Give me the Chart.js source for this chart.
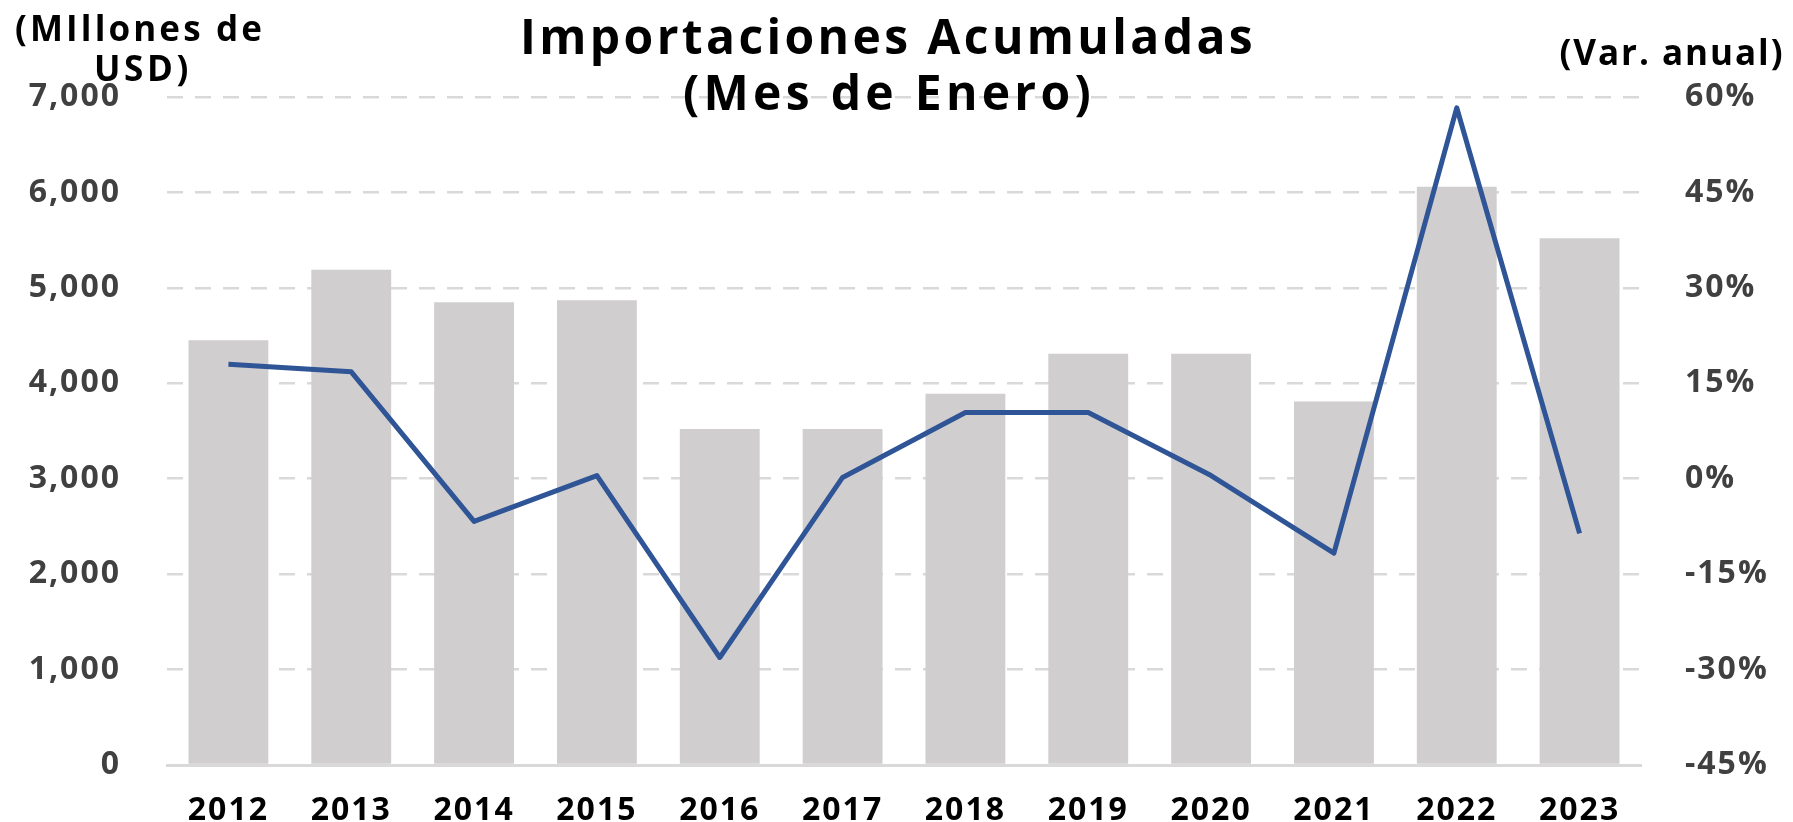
<!DOCTYPE html>
<html>
<head>
<meta charset="utf-8">
<script src="https://cdn.jsdelivr.net/npm/chart.js@4"></script>
<style>
  body { margin: 0; background: #fff; }
  canvas { display: block; }
</style>
</head>
<body>
<canvas id="chart-imports" width="1793" height="822"></canvas>
<script>
// datos
var years = ["2012", "2013", "2014", "2015", "2016", "2017", "2018", "2019", "2020", "2021", "2022", "2023"];
var importaciones = [4450, 5190, 4850, 4870, 3520, 3520, 3890, 4310, 4310, 3810, 6060, 5520];
var variacion = [18.0, 16.8, -6.7, 0.5, -28.1, 0.2, 10.4, 10.4, 0.5, -11.7, 58.3, -8.6];
var leftTicks = [0, 1000, 2000, 3000, 4000, 5000, 6000, 7000];
var rightTicks = [-45, -30, -15, 0, 15, 30, 45, 60];

var FONT = "'Open Sans', 'DejaVu Sans', sans-serif";

// texto ajustado a un ancho dado (tamaño primero, luego espaciado)
function fitText(ctx, txt, cx, cy, width, maxSize) {
    ctx.letterSpacing = "0px";
    ctx.font = "bold 40px " + FONT;
    var w = ctx.measureText(txt).width;
    var size = Math.min(maxSize, 40 * width / w);
    ctx.font = "bold " + size + "px " + FONT;
    w = ctx.measureText(txt).width;
    var ls = Math.max(0, (width - w) / txt.length);
    ctx.letterSpacing = ls + "px";
    ctx.textAlign = "left";
    ctx.textBaseline = "middle";
    ctx.fillText(txt, cx - width / 2, cy);
}

var textPlugin = {
    id: 'textos',
    beforeDraw: function (chart) {
        chart.ctx.letterSpacing = "2px";
    },
    afterDraw: function (chart) {
        var ctx = chart.ctx;
        ctx.save();
        ctx.fillStyle = "#000";
        fitText(ctx, "Importaciones Acumuladas", 888, 40, 736, 48);
        fitText(ctx, "(Mes de Enero)", 889, 96, 412, 48);
        fitText(ctx, "(MIllones de", 140, 31, 250, 35);
        fitText(ctx, "USD)", 143, 71, 98, 35);
        fitText(ctx, "(Var. anual)", 1672, 55, 225, 35);
        ctx.restore();
    }
};

var ctx = document.getElementById("chart-imports").getContext('2d');
var myChart = new Chart(ctx, {
    type: 'bar',
    data: {
        labels: years,
        datasets: [{
            type: 'line',
            label: "Var. anual",
            data: variacion,
            yAxisID: 'y1',
            borderColor: '#2F5597',
            borderWidth: 5,
            borderJoinStyle: 'round',
            pointRadius: 0,
            tension: 0,
            fill: false,
            order: 0
        }, {
            type: 'bar',
            label: "Importaciones",
            data: importaciones,
            yAxisID: 'y',
            backgroundColor: '#D0CECE',
            barPercentage: 0.65,
            categoryPercentage: 1,
            order: 1
        }]
    },
    options: {
        responsive: false,
        animation: false,
        layout: {
            padding: { top: 97, left: 0, right: 0, bottom: 0 }
        },
        plugins: {
            legend: { display: false },
            tooltip: { enabled: false }
        },
        scales: {
            x: {
                grid: { display: false },
                border: { display: true, color: '#D9D9D9', width: 3 },
                ticks: {
                    color: '#000',
                    padding: 19,
                    font: { family: FONT, size: 32, weight: 'bold' }
                },
                afterFit: function (scale) { scale.height = 57; }
            },
            y: {
                position: 'left',
                min: 0,
                max: 7000,
                afterBuildTicks: function (scale) {
                    scale.ticks = leftTicks.map(function (v) { return { value: v }; });
                },
                grid: {
                    color: '#D9D9D9',
                    lineWidth: 2.5,
                    drawTicks: true,
                    tickLength: 42,
                    tickColor: 'rgba(0,0,0,0)'
                },
                border: { display: false, dash: [16, 12] },
                ticks: {
                    color: '#404040',
                    padding: 4,
                    font: { family: FONT, size: 32, weight: 'bold' },
                    callback: function (v) { return v.toLocaleString('en-US'); }
                },
                afterFit: function (scale) { scale.width = 167; }
            },
            y1: {
                position: 'right',
                min: -45,
                max: 60,
                afterBuildTicks: function (scale) {
                    scale.ticks = rightTicks.map(function (v) { return { value: v }; });
                },
                grid: {
                    display: true,
                    drawOnChartArea: false,
                    drawTicks: true,
                    tickLength: 40,
                    color: 'rgba(0,0,0,0)',
                    tickColor: 'rgba(0,0,0,0)'
                },
                border: { display: false },
                ticks: {
                    color: '#404040',
                    padding: 4,
                    font: { family: FONT, size: 32, weight: 'bold' },
                    callback: function (v) { return v + '%'; }
                },
                afterFit: function (scale) { scale.width = 152; }
            }
        }
    },
    plugins: [textPlugin]
});
</script>
</body>
</html>
